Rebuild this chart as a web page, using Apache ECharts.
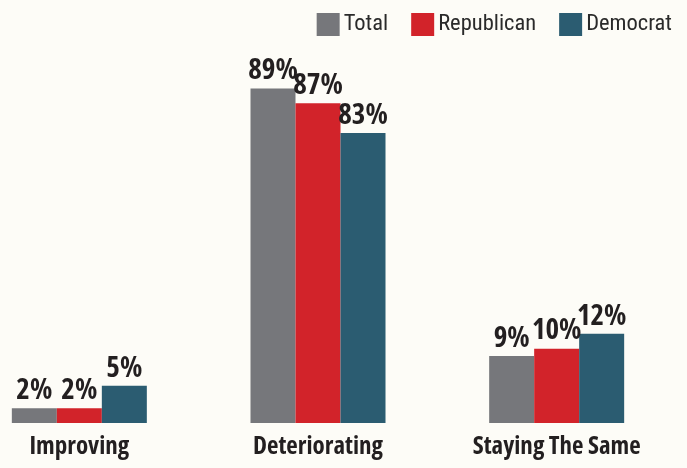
<!DOCTYPE html>
<html>
<head>
<meta charset="utf-8">
<style>
  html, body { margin: 0; padding: 0; background: #fdfcf7; }
  #chart { width: 687px; height: 468px; }
</style>
<script src="https://cdn.jsdelivr.net/npm/echarts@6/dist/echarts.min.js"></script>
</head>
<body>
<div id="chart"></div>
<script>
// Outlook categories and the share (%) of each group choosing them
const categories = ['Improving', 'Deteriorating', 'Staying The Same'];
const totalValues = [2, 89, 9];
const republicanValues = [2, 87, 10];
const democratValues = [5, 83, 12];

const seriesNames = ['Total', 'Republican', 'Democrat'];
const seriesColors = ['#76777b', '#d2232a', '#2b5c71'];

// Heavy condensed face for values and category names
const headFont = '"Open Sans", "Open Sans Condensed", sans-serif';
const headWeight = 'bold condensed';
const legendFont = '"Roboto Condensed", "Open Sans Condensed", sans-serif';

function barSeries(name, values, color) {
  return {
    name: name,
    type: 'bar',
    data: values,
    barWidth: 45,
    barGap: '0%',
    itemStyle: { color: color },
    label: {
      show: true,
      position: 'top',
      distance: 3,
      formatter: '{c}%',
      color: '#231f20',
      fontFamily: headFont,
      fontWeight: headWeight,
      fontSize: 29
    }
  };
}

const chart = echarts.init(document.getElementById('chart'), null, { renderer: 'canvas' });
chart.setOption({
  backgroundColor: '#fdfcf7',
  animation: false,
  legend: {
    right: 10,
    top: 8,
    itemWidth: 23,
    itemHeight: 23,
    itemGap: 23,
    icon: 'rect',
    textStyle: {
      fontFamily: legendFont,
      fontSize: 22.5,
      color: '#2a2a2a',
      padding: [0, 0, 0, -1]
    },
    data: seriesNames
  },
  grid: {
    left: -40,
    width: 716,
    top: 81,
    bottom: 45,
    containLabel: false,
    outerBoundsMode: 'none'
  },
  xAxis: {
    type: 'category',
    data: categories,
    axisLine: { show: false },
    axisTick: { show: false },
    axisLabel: {
      interval: 0,
      margin: 11,
      color: '#231f20',
      fontFamily: headFont,
      fontWeight: headWeight,
      fontSize: 25
    }
  },
  yAxis: {
    type: 'value',
    min: 0,
    max: 90,
    axisLine: { show: false },
    axisTick: { show: false },
    axisLabel: { show: false },
    splitLine: { show: false },
    breaks: [{ start: 13, end: 80, gap: '50%' }],
    breakArea: { show: false }
  },
  series: [
    barSeries(seriesNames[0], totalValues, seriesColors[0]),
    barSeries(seriesNames[1], republicanValues, seriesColors[1]),
    barSeries(seriesNames[2], democratValues, seriesColors[2])
  ]
});
</script>
</body>
</html>
